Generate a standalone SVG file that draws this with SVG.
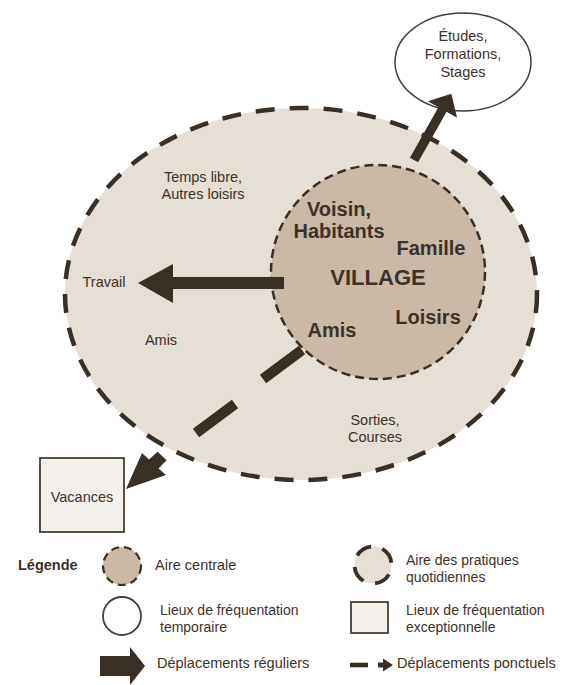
<svg xmlns="http://www.w3.org/2000/svg" width="574" height="685" viewBox="0 0 574 685">
<style>
  .t { font-family: "Liberation Sans", Arial, sans-serif; fill: #3d3229; font-size: 14.5px; }
  .s { font-size: 14px; }
  .b { font-weight: bold; font-size: 20px; }
  .m { text-anchor: middle; }
  .outer { fill: #e6dfd5; stroke: #3a2f24; stroke-width: 4.5; stroke-dasharray: 19 15; }
  .inner { fill: #c9b9a6; stroke: #3a2f24; stroke-width: 2.5; stroke-dasharray: 9 5; }
  .dark { fill: #3a2f24; }
  .seg { stroke: #3a2f24; stroke-width: 10.5; fill: none; }
  .box { fill: #f3f0ec; stroke: #4a3d31; stroke-width: 1.8; }
  .oval { fill: #ffffff; stroke: #4a3d31; stroke-width: 1.5; }
</style>
<rect width="574" height="685" fill="#ffffff"/>

<g id="aire-quotidienne">
  <ellipse class="outer" cx="301" cy="294" rx="236" ry="186"/>
  <text class="t m" x="203" y="182">Temps libre,</text>
  <text class="t m" x="203" y="199">Autres loisirs</text>
  <text class="t m" x="104" y="287">Travail</text>
  <text class="t m" x="161" y="345">Amis</text>
  <text class="t m" x="375" y="425">Sorties,</text>
  <text class="t m" x="375" y="442">Courses</text>
</g>

<g id="village">
  <circle class="inner" cx="378" cy="272" r="107"/>
  <text class="t b m" x="339" y="216">Voisin,</text>
  <text class="t b m" x="339" y="238">Habitants</text>
  <text class="t b m" x="431" y="255">Famille</text>
  <text class="t b m" x="378" y="285" style="font-size:22px">VILLAGE</text>
  <text class="t b m" x="428" y="324">Loisirs</text>
  <text class="t b m" x="332" y="337">Amis</text>
</g>

<g id="etudes">
  <ellipse class="oval" cx="463" cy="62" rx="68" ry="49"/>
  <text class="t m" x="463" y="41">Études,</text>
  <text class="t m" x="463" y="59">Formations,</text>
  <text class="t m" x="463" y="77">Stages</text>
</g>

<g id="vacances">
  <rect class="box" x="40" y="458" width="84" height="74"/>
  <text class="t m" x="82" y="502">Vacances</text>
</g>

<g id="connectors">
  <polygon class="dark" points="409.9,157.7 438.4,107.2 427.9,101.3 451.3,93.8 457.1,117.7 446.6,111.8 418.1,162.3"/>
  <polygon class="dark" points="284,277 173,277 173,264 138,283 173,303 173,289 284,289"/>
  <line class="seg" x1="302" y1="350" x2="263" y2="379"/>
  <line class="seg" x1="235" y1="404" x2="196" y2="433"/>
  <polygon class="dark" points="126,489 142,453 149,459.6 157.6,451.8 166.6,460.2 158.6,468.4 166,475"/>
</g>

<g id="legende">
  <text class="t" x="18" y="570" style="font-weight:bold">Légende</text>
  <circle cx="122" cy="566" r="19" fill="#c9b9a6" stroke="#3a2f24" stroke-width="2.2" stroke-dasharray="8 5"/>
  <text class="t" x="155" y="570">Aire centrale</text>
  <circle cx="373" cy="565" r="18.5" fill="#e6dfd5" stroke="#3a2f24" stroke-width="3.8" stroke-dasharray="17 12" transform="rotate(-60 373 565)"/>
  <text class="t s" x="406" y="565">Aire des pratiques</text>
  <text class="t s" x="406" y="582">quotidiennes</text>
  <circle cx="122" cy="616" r="19" fill="#ffffff" stroke="#4a3d31" stroke-width="1.8"/>
  <text class="t s" x="160" y="615">Lieux de fréquentation</text>
  <text class="t s" x="160" y="632">temporaire</text>
  <rect class="box" x="351" y="602" width="37" height="31"/>
  <text class="t s" x="406" y="615">Lieux de fréquentation</text>
  <text class="t s" x="406" y="632">exceptionnelle</text>
  <polygon class="dark" points="100,656 130,656 130,647 145,666 130,685 130,676 100,676"/>
  <text class="t" x="157" y="668">Déplacements réguliers</text>
  <rect class="dark" x="350" y="662.7" width="18" height="4.6"/>
  <polygon class="dark" points="378,662.5 383,662.5 383,658.5 393,665 383,671.5 383,667.5 378,667.5"/>
  <text class="t" x="397" y="668">Déplacements ponctuels</text>
</g>
</svg>
